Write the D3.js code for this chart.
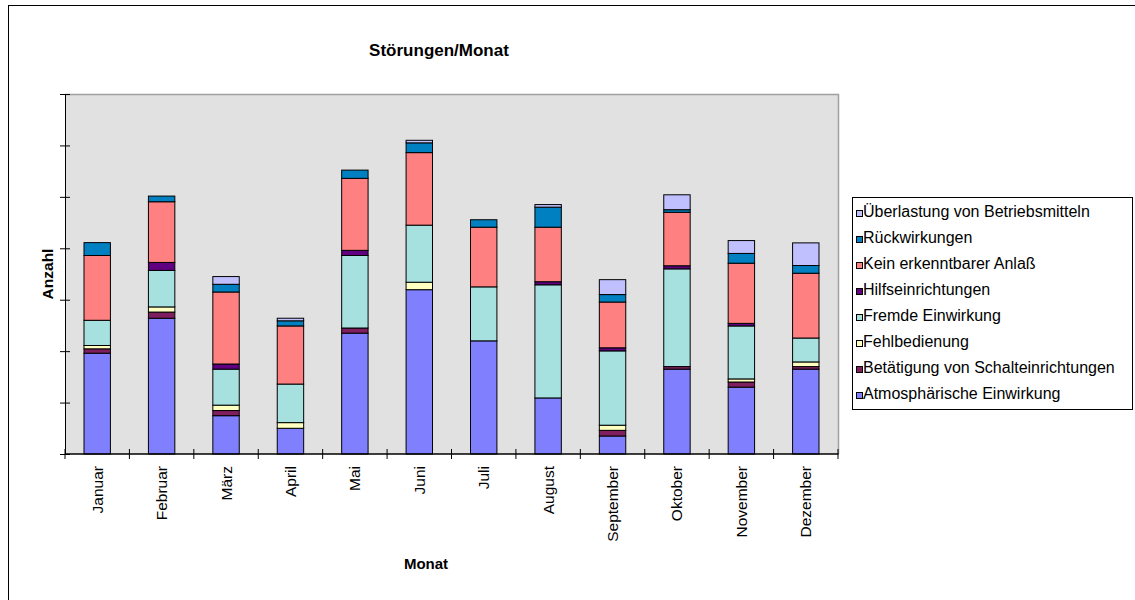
<!DOCTYPE html>
<html>
<head>
<meta charset="utf-8">
<script src="https://cdn.jsdelivr.net/npm/d3@7"></script>
<style>
  html, body { margin: 0; padding: 0; background: #fff; }
  svg { display: block; font-family: Arial, "Liberation Sans", sans-serif; }
</style>
</head>
<body>
<svg id="chart" width="1135" height="600"></svg>
<script>
// Months on the x axis
const months = ["Januar", "Februar", "März", "April", "Mai", "Juni", "Juli",
  "August", "September", "Oktober", "November", "Dezember"];

// Stack order, bottom to top
const seriesNames = [
  "Atmosphärische Einwirkung",
  "Betätigung von Schalteinrichtungen",
  "Fehlbedienung",
  "Fremde Einwirkung",
  "Hilfseinrichtungen",
  "Kein erkenntbarer Anlaß",
  "Rückwirkungen",
  "Überlastung von Betriebsmitteln"
];
const seriesColors = ["#8080ff", "#7f1f5f", "#ffffc0", "#a6e1e0", "#600080", "#ff8080", "#0080c0", "#c0c0ff"];

// Disturbances per month, one array per cause
const atmosphaerisch = [19.6, 26.4, 7.45, 5.0, 23.5, 31.95, 22.0, 10.9, 3.5, 16.5, 13.0, 16.5];
const betaetigung    = [0.85, 1.2, 1.0, 0, 1.0, 0, 0, 0, 1.1, 0.5, 1.0, 0.5];
const fehlbedienung  = [0.65, 1.0, 1.05, 1.1, 0, 1.45, 0, 0, 1.0, 0, 0.6, 0.9];
const fremde         = [4.9, 7.1, 7.0, 7.5, 14.1, 11.1, 10.5, 22.0, 14.45, 19.0, 10.3, 4.65];
const hilfs          = [0, 1.55, 1.0, 0, 1.0, 0, 0, 0.6, 0.6, 0.6, 0.5, 0];
const keinAnlass     = [12.6, 11.8, 14.0, 11.3, 14.0, 14.1, 11.6, 10.6, 8.9, 10.4, 11.7, 12.6];
const rueckwirkungen = [2.5, 1.1, 1.5, 1.0, 1.6, 1.9, 1.45, 3.9, 1.45, 0.5, 1.9, 1.5];
const ueberlastung   = [0, 0, 1.5, 0.5, 0, 0.5, 0, 0.5, 2.9, 2.9, 2.5, 4.4];

const seriesValues = [atmosphaerisch, betaetigung, fehlbedienung, fremde, hilfs, keinAnlass, rueckwirkungen, ueberlastung];

// Y axis: ticks without labels
const yTicks = [0, 10, 20, 30, 40, 50, 60, 70];

const titleText = "Störungen/Monat";
const xTitle = "Monat";
const yTitle = "Anzahl";

// Table for d3.stack
const table = months.map((m, i) => {
  const row = { month: m };
  seriesNames.forEach((s, k) => { row[s] = seriesValues[k][i]; });
  return row;
});

const svg = d3.select("#chart");
const plot = { left: 65, right: 838, top: 94, bottom: 454 };

// Outer chart frame
svg.append("rect")
  .attr("x", 8.5).attr("y", 5.5).attr("width", 1140).attr("height", 610)
  .attr("fill", "#fff").attr("stroke", "#000").attr("stroke-width", 1);

const x = d3.scaleBand()
  .domain(months)
  .range([plot.left, plot.right])
  .paddingInner(0.59)
  .paddingOuter(0.295);

const y = d3.scaleLinear()
  .domain([0, 70])
  .range([plot.bottom, plot.top]);

// Plot area
svg.append("rect")
  .attr("x", plot.left).attr("y", plot.top)
  .attr("width", plot.right - plot.left).attr("height", plot.bottom - plot.top)
  .attr("fill", "#e1e1e1");
svg.append("path")
  .attr("d", `M${plot.left},${plot.top + 0.5}H${plot.right + 0.5}V${plot.bottom}`)
  .attr("fill", "none").attr("stroke", "#a0a0a0").attr("stroke-width", 1.5);

// Stacked bars
const stack = d3.stack().keys(seriesNames);
const layers = stack(table);

svg.append("g")
  .selectAll("g")
  .data(layers)
  .join("g")
  .attr("fill", (d, i) => seriesColors[i])
  .selectAll("rect")
  .data(d => d.filter(p => p[1] - p[0] > 0))
  .join("rect")
  .attr("x", d => x(d.data.month))
  .attr("y", d => y(d[1]))
  .attr("width", x.bandwidth())
  .attr("height", d => y(d[0]) - y(d[1]))
  .attr("stroke", "#000")
  .attr("stroke-width", 1);

// Y axis (ticks cross the axis line, no labels)
const yAxis = svg.append("g")
  .attr("transform", `translate(${plot.left},0)`)
  .call(d3.axisLeft(y).tickValues(yTicks).tickSize(5).tickFormat(""));
yAxis.select(".domain").attr("stroke", "#000");
yAxis.selectAll(".tick line").attr("x2", -5).attr("x1", 5).attr("stroke", "#000");

// X axis: ticks at band boundaries
const xAxisG = svg.append("g").attr("transform", `translate(0,${plot.bottom})`);
xAxisG.append("line")
  .attr("x1", plot.left).attr("x2", plot.right + 0.5)
  .attr("y1", 0).attr("y2", 0).attr("stroke", "#000").attr("stroke-width", 1.5);
const boundaries = d3.range(months.length + 1).map(i => plot.left + i * x.step());
xAxisG.selectAll("line.tick")
  .data(boundaries)
  .join("line")
  .attr("class", "tick")
  .attr("x1", d => d).attr("x2", d => d)
  .attr("y1", -5).attr("y2", 5)
  .attr("stroke", "#000");

// Month labels, rotated
xAxisG.selectAll("text.month")
  .data(months)
  .join("text")
  .attr("class", "month")
  .attr("transform", d => `translate(${x(d) + x.bandwidth() / 2 + 5.5},12) rotate(-90)`)
  .attr("text-anchor", "end")
  .attr("font-size", 15.5)
  .attr("fill", "#000")
  .text(d => d);

// Titles
svg.append("text")
  .attr("x", 439).attr("y", 56)
  .attr("text-anchor", "middle")
  .attr("font-size", 17).attr("font-weight", "bold")
  .text(titleText);

svg.append("text")
  .attr("x", 426).attr("y", 569)
  .attr("text-anchor", "middle")
  .attr("font-size", 15).attr("font-weight", "bold")
  .text(xTitle);

svg.append("text")
  .attr("transform", "translate(53,274) rotate(-90)")
  .attr("text-anchor", "middle")
  .attr("font-size", 15.5).attr("font-weight", "bold")
  .text(yTitle);

// Legend, top entry is the top of the stack
const legend = svg.append("g");
legend.append("rect")
  .attr("x", 852.5).attr("y", 197.5).attr("width", 280).attr("height", 212)
  .attr("fill", "#fff").attr("stroke", "#000");

const legendOrder = seriesNames.map((s, i) => i).reverse();
const items = legend.selectAll("g.item")
  .data(legendOrder)
  .join("g")
  .attr("class", "item")
  .attr("transform", (d, j) => `translate(856,${217 + j * 26})`);
items.append("rect")
  .attr("x", 0.5).attr("y", -6.5).attr("width", 6).attr("height", 6)
  .attr("fill", d => seriesColors[d]).attr("stroke", "#000");
items.append("text")
  .attr("x", 7).attr("y", 0)
  .attr("font-size", 16)
  .text(d => seriesNames[d]);
</script>
</body>
</html>
